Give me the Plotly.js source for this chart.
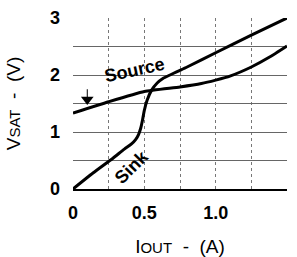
<!DOCTYPE html>
<html><head><meta charset="utf-8">
<script src="https://cdn.plot.ly/plotly-3.0.1.min.js"></script>
<style>html,body{margin:0;padding:0;background:#fff;}</style>
</head><body>
<div id="chart" style="width:297px;height:257px;"></div>
<script>
const sinkX   = [0, 0.14, 0.28, 0.36, 0.41, 0.44, 0.46, 0.475, 0.488, 0.50, 0.52, 0.55, 0.59, 0.63, 0.68, 0.73, 0.8, 1.0, 1.25, 1.5];
const sinkY   = [0, 0.28, 0.54, 0.70, 0.79, 0.87, 0.96, 1.07, 1.22, 1.38, 1.56, 1.73, 1.86, 1.94, 2.00, 2.06, 2.14, 2.39, 2.70, 3.0];
const sourceX = [0, 0.25, 0.5, 0.75, 0.9, 1.0, 1.1, 1.25, 1.375, 1.5];
const sourceY = [1.33, 1.53, 1.71, 1.79, 1.85, 1.91, 1.98, 2.14, 2.31, 2.51];
const markerX = [0.1];
const markerY = [1.57];
const xTickVals = [0, 0.5, 1.0, 1.5];
const xTickText = ["0", "0.5", "1.0", "1.5"];
const yTickVals = [0, 1, 2, 3];
const yTickText = ["0", "1", "2", "3"];

const font = {family: "Liberation Sans, Arial, sans-serif", size: 18, color: "#000", weight: "bold"};
const titleFont = {family: "Liberation Sans, Arial, sans-serif", size: 19, color: "#000", weight: "normal"};
const data = [
  {x: sinkX, y: sinkY, mode: "lines", line: {color: "#000", width: 3, shape: "spline", smoothing: 0.6}, hoverinfo: "skip", cliponaxis: false},
  {x: sourceX, y: sourceY, mode: "lines", line: {color: "#000", width: 3, shape: "spline", smoothing: 0.5}, hoverinfo: "skip"},
  {x: markerX, y: markerY, mode: "markers", marker: {symbol: "triangle-down", size: 11, color: "#000"}, hoverinfo: "skip"}
];
const layout = {
  width: 297, height: 257,
  margin: {l: 73, r: 10, t: 18, b: 68},
  paper_bgcolor: "#fff", plot_bgcolor: "#fff",
  showlegend: false,
  font: font,
  xaxis: {
    range: [0, 1.5], tickvals: xTickVals, ticktext: xTickText,
    showgrid: true, gridcolor: "#777", gridwidth: 1, griddash: "dot",
    minor: {dtick: 0.25, tick0: 0, showgrid: true, gridcolor: "#777", gridwidth: 1, griddash: "dot"},
    showline: true, linecolor: "#000", linewidth: 2,
    zeroline: false, ticks: "", ticklabelstandoff: 6,
    tickfont: font,
    title: {text: "I<span style=\"font-size:15px\">OUT</span>  -  (A)", font: titleFont, standoff: 18}
  },
  yaxis: {
    range: [0, 3], tickvals: yTickVals, ticktext: yTickText,
    showgrid: true, gridcolor: "#666", gridwidth: 1,
    minor: {dtick: 0.5, tick0: 0, showgrid: true, gridcolor: "#666", gridwidth: 1},
    showline: false, zeroline: false, ticks: "", ticklabelstandoff: 12,
    tickfont: font,
    title: {text: "V<span style=\"font-size:15px\">SAT</span>  -  (V)", font: titleFont, standoff: 24}
  },
  annotations: [
    {x: 0.43, y: 2.09, xref: "x", yref: "y", text: "Source", showarrow: false, textangle: -12, font: font},
    {x: 0.41, y: 0.39, xref: "x", yref: "y", text: "Sink", showarrow: false, textangle: -45, font: font}
  ],
  shapes: [
    {type: "line", xref: "x", yref: "y", x0: 0.1, x1: 0.1, y0: 1.6, y1: 1.75, line: {color: "#000", width: 1}}
  ]
};
Plotly.newPlot("chart", data, layout, {staticPlot: true, displayModeBar: false});
</script>
</body></html>
